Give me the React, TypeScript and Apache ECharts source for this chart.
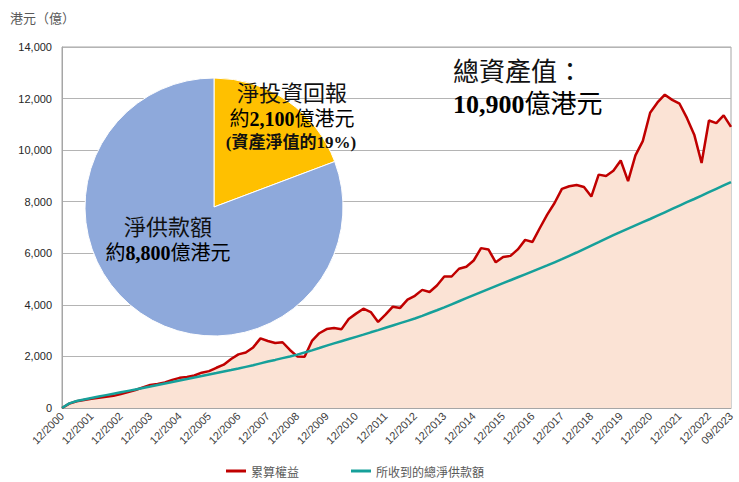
import React, { useEffect, useRef } from "react";
import * as echarts from "echarts";

// Quarterly categories 12/2000 .. 09/2023
const quarters: string[] = [];
{
  let y = 2000;
  let m = 12;
  while (y < 2023 || (y === 2023 && m <= 9)) {
    quarters.push(`${String(m).padStart(2, "0")}/${y}`);
    m += 3;
    if (m > 12) {
      m -= 12;
      y++;
    }
  }
}

const seriesNames = ["累算權益", "所收到的總淨供款額"];

// 累算權益 (HK$ 100 million), quarterly
const accruedBenefits = [
  0, 170, 260, 310, 360, 400, 440, 470, 540, 620, 700, 800, 890, 930, 990, 1090,
  1170, 1200, 1260, 1370, 1430, 1560, 1680, 1900, 2080, 2150, 2350, 2700, 2600,
  2520, 2550, 2250, 2000, 1990, 2600, 2900, 3060, 3100, 3050, 3450, 3660, 3850,
  3720, 3340, 3620, 3930, 3880, 4200, 4350, 4580, 4500, 4750, 5100, 5100, 5400,
  5480, 5720, 6200, 6150, 5650, 5860, 5900, 6150, 6520, 6440, 6980, 7500, 7950,
  8500, 8600, 8650, 8570, 8200, 9050, 9000, 9200, 9600, 8800, 9800, 10350, 11450,
  11850, 12150, 11950, 11800, 11250, 10600, 9500, 11150, 11050, 11350, 10900,
];

// 所收到的總淨供款額 (HK$ 100 million), quarterly
const netContributions = [
  0, 180, 270, 330, 390, 445, 500, 555, 610, 665, 720, 775, 830, 890, 950, 1010,
  1070, 1125, 1185, 1240, 1300, 1355, 1415, 1470, 1530, 1595, 1660, 1730, 1800,
  1865, 1935, 2000, 2070, 2150, 2235, 2325, 2420, 2505, 2590, 2675, 2760, 2845,
  2935, 3020, 3110, 3200, 3290, 3380, 3470, 3575, 3685, 3790, 3900, 4020, 4140,
  4260, 4380, 4495, 4610, 4725, 4840, 4955, 5070, 5185, 5300, 5415, 5530, 5650,
  5770, 5900, 6030, 6165, 6300, 6430, 6565, 6700, 6830, 6955, 7080, 7205, 7330,
  7460, 7590, 7720, 7850, 7980, 8105, 8235, 8370, 8500, 8630, 8760,
];

const pieNames = ["淨投資回報", "淨供款額"];
const pieValues = [2100, 8800];

const yTicks = { min: 0, max: 14000, interval: 2000 };

const serif = '"Liberation Serif", "Noto Sans CJK TC", serif';
const sans = '"Noto Sans CJK TC", "Noto Sans", sans-serif';

export default function App() {
  const ref = useRef<HTMLDivElement>(null);
  useEffect(() => {
    document.body.style.margin = "0";
    if (!ref.current) return;
    const chart = echarts.init(ref.current, undefined, { renderer: "svg" });
    const lastIdx = quarters.length - 1;
    const richNormal = (size: number) => ({ fontSize: size, fontFamily: serif, color: "#111" });
    const richBold = (size: number) => ({ fontSize: size, fontFamily: serif, fontWeight: "bold" as const, color: "#111" });
    chart.setOption({
      animation: false,
      backgroundColor: "#ffffff",
      grid: {
        left: 62,
        right: 8,
        top: 47,
        bottom: 74,
        show: true,
        borderColor: "#a6a6a6",
        borderWidth: 1,
      },
      legend: {
        left: 226,
        top: 464,
        itemGap: 52,
        itemWidth: 20,
        itemHeight: 3,
        icon: "rect",
        padding: 0,
        textStyle: { fontSize: 12, lineHeight: 14, color: "#595959", fontFamily: sans },
        data: seriesNames,
      },
      xAxis: {
        type: "category",
        data: quarters,
        boundaryGap: false,
        axisLine: { lineStyle: { color: "#a6a6a6" } },
        axisTick: { show: false },
        axisLabel: {
          rotate: 45,
          fontSize: 11,
          color: "#404040",
          fontFamily: '"Liberation Sans", Arial, sans-serif',
          margin: 6,
          interval: (i: number) => i % 4 === 0 || i === lastIdx,
          showMaxLabel: true,
        },
        splitLine: { show: false },
      },
      yAxis: {
        type: "value",
        min: yTicks.min,
        max: yTicks.max,
        interval: yTicks.interval,
        axisLine: { show: true, lineStyle: { color: "#a6a6a6" } },
        axisTick: { show: false },
        axisLabel: {
          fontSize: 11,
          color: "#262626",
          fontFamily: '"Liberation Sans", Arial, sans-serif',
          margin: 10,
          formatter: (v: number) => v.toLocaleString("en-US"),
        },
        splitLine: { lineStyle: { color: "#b4b4b4", width: 1 } },
      },
      series: [
        {
          name: seriesNames[0],
          type: "line",
          data: accruedBenefits,
          showSymbol: false,
          symbol: "none",
          lineStyle: { color: "#C00000", width: 2.5 },
          itemStyle: { color: "#C00000" },
          areaStyle: { color: "#FBE3D5", opacity: 1 },
          z: 2,
        },
        {
          name: seriesNames[1],
          type: "line",
          data: netContributions,
          showSymbol: false,
          symbol: "none",
          lineStyle: { color: "#16A09A", width: 2.5 },
          itemStyle: { color: "#16A09A" },
          z: 3,
        },
        {
          type: "pie",
          center: [214, 207],
          radius: 129,
          startAngle: 90,
          clockwise: true,
          silent: true,
          label: { show: false },
          labelLine: { show: false },
          itemStyle: { borderColor: "#ffffff", borderWidth: 1 },
          data: [
            { name: pieNames[0], value: pieValues[0], itemStyle: { color: "#FFC000" } },
            { name: pieNames[1], value: pieValues[1], itemStyle: { color: "#8EA9DB" } },
          ],
          z: 5,
        },
      ],
      graphic: [
        {
          type: "text",
          left: 10,
          top: 11,
          style: { text: "港元（億）", fontSize: 13, fill: "#595959", fontFamily: sans },
        },
        {
          type: "text",
          x: 292,
          y: 93,
          z: 10,
          style: {
            text: "淨投資回報",
            fontSize: 22,
            fontFamily: serif,
            fill: "#111",
            align: "center",
            verticalAlign: "middle",
          },
        },
        {
          type: "text",
          x: 292,
          y: 119,
          z: 10,
          style: {
            text: "{a|約}{b|2,100}{a|億港元}",
            align: "center",
            verticalAlign: "middle",
            rich: { a: richNormal(20), b: richBold(20) },
          },
        },
        {
          type: "text",
          x: 291,
          y: 142,
          z: 10,
          style: {
            text: "(資產淨值的19%)",
            fontSize: 17,
            fontWeight: "bold",
            fontFamily: serif,
            fill: "#111",
            align: "center",
            verticalAlign: "middle",
          },
        },
        {
          type: "text",
          x: 168,
          y: 227,
          z: 10,
          style: {
            text: "淨供款額",
            fontSize: 22,
            fontFamily: serif,
            fill: "#111",
            align: "center",
            verticalAlign: "middle",
          },
        },
        {
          type: "text",
          x: 168,
          y: 253,
          z: 10,
          style: {
            text: "{a|約}{b|8,800}{a|億港元}",
            align: "center",
            verticalAlign: "middle",
            rich: { a: richNormal(20), b: richBold(20) },
          },
        },
        {
          type: "text",
          x: 453,
          y: 72,
          z: 10,
          style: {
            text: "總資產值：",
            fontSize: 26,
            fontFamily: serif,
            fill: "#111",
            align: "left",
            verticalAlign: "middle",
          },
        },
        {
          type: "text",
          x: 453,
          y: 104,
          z: 10,
          style: {
            text: "{b|10,900}{a|億港元}",
            align: "left",
            verticalAlign: "middle",
            rich: { a: richNormal(26), b: richBold(26) },
          },
        },
      ],
    });
    return () => chart.dispose();
  }, []);
  return <div ref={ref} style={{ width: 739, height: 482 }} />;
}
